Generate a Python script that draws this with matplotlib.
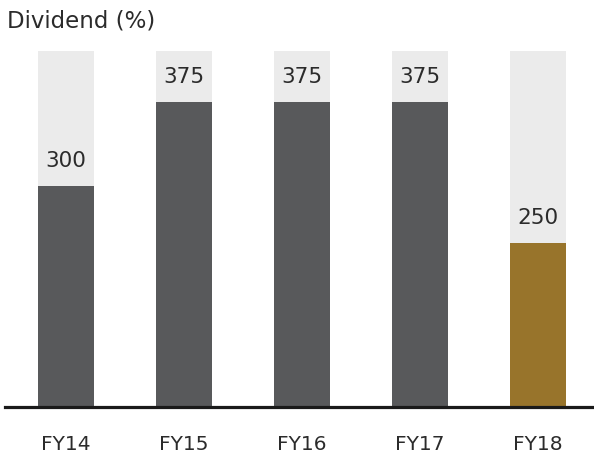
import matplotlib.pyplot as plt

# dividend payout per year
years = ['FY14', 'FY15', 'FY16', 'FY17', 'FY18']
dividend = [300, 375, 375, 375, 250]
bar_colors = ['#58595b', '#58595b', '#58595b', '#58595b', '#98742b']
bg_level = 420

plt.rcParams['font.family'] = ['DejaVu Sans']

fig = plt.figure(figsize=(5.94, 4.61), dpi=100)
ax = fig.add_axes([5 / 594, 54 / 461, 589 / 594, 356 / 461])

x = range(len(years))
ax.bar(x, [bg_level] * len(years), width=0.475, color='#ebebeb', zorder=1)
ax.bar(x, dividend, width=0.475, color=bar_colors, zorder=2)

for xi, v in zip(x, dividend):
    ax.annotate(str(v), (xi, v), xytext=(0, 13.5), textcoords='offset points',
                ha='center', va='baseline', fontsize=15.5, color='#2b2b2b')

ax.set_xlim(-0.517, 4.475)
ax.set_ylim(104, bg_level)
ax.set_xticks(list(x))
ax.set_xticklabels(years, fontsize=14.5, color='#2b2b2b')
ax.tick_params(axis='x', length=0, pad=20)
ax.set_yticks([])
for s in ['top', 'right', 'left']:
    ax.spines[s].set_visible(False)
ax.spines['bottom'].set_linewidth(2.3)
ax.spines['bottom'].set_color('#1a1a1a')
ax.spines['bottom'].set_zorder(3)

fig.text(7 / 594, 1 - 28 / 461, 'Dividend (%)', fontsize=16.5, color='#2b2b2b',
         va='baseline', ha='left')

fig.savefig('out.png', dpi=100)
